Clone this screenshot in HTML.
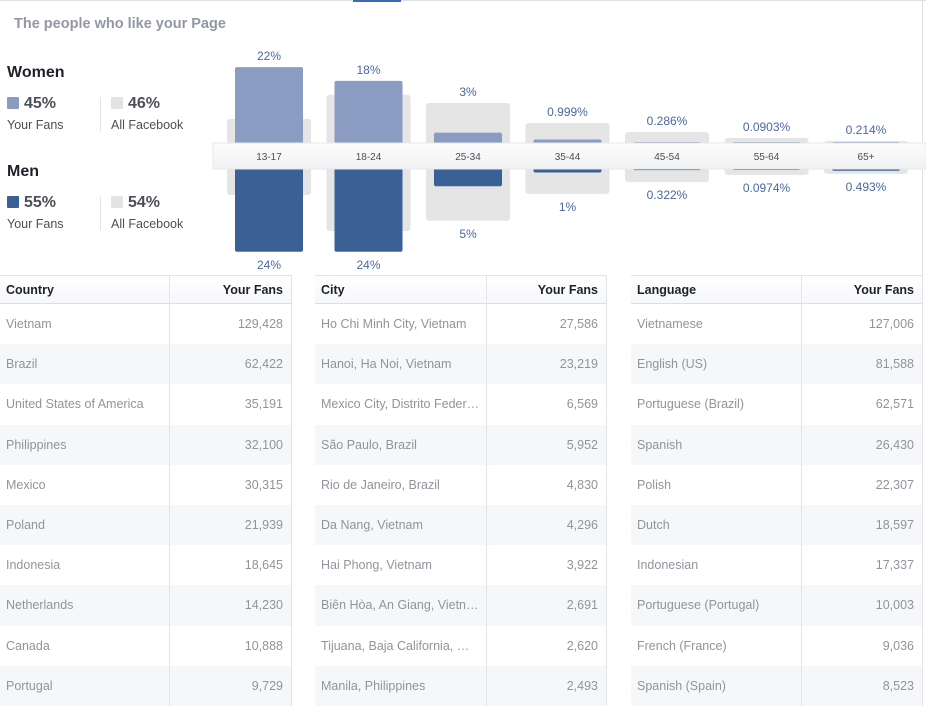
<!DOCTYPE html>
<html><head><meta charset="utf-8">
<style>
body{margin:0;width:926px;height:704px;background:#fff;font-family:"Liberation Sans",Arial,sans-serif;position:relative;overflow:hidden}
.abs{position:absolute}
.title{left:14px;top:16px;font-size:14.5px;font-weight:bold;color:#9197a3}
.lbl{font-size:16px;font-weight:bold;color:#1d2129}
.pct{font-size:16px;font-weight:bold;color:#4b4f56}
.sub{font-size:12.5px;color:#4b4f56}
.sw{width:12px;height:12px;display:inline-block;vertical-align:-1px;margin-right:5px;border-radius:1px}
table{position:absolute;top:275px;border-collapse:collapse;width:292px;font-size:12.5px;table-layout:fixed}
th{height:27px;font-weight:bold;color:#1d2129;text-align:left;padding:0 6px;border-right:1px solid #e3e4e8;border-bottom:1px solid #dddfe2;border-top:1px solid #e3e4e8;background:linear-gradient(#fff,#f6f7f9)}
td{height:40.2px;padding:0 6px;color:#90949c;border-right:1px solid #e3e4e8;white-space:nowrap;overflow:hidden;text-overflow:ellipsis}
th:last-child,td:last-child{text-align:right;padding-right:8px}
tr:nth-child(odd) td{background:#f6f7f9}
</style></head><body>
<div class="abs" style="left:0;top:0;width:926px;height:1px;background:#dddfe2"></div>
<div class="abs" style="left:353px;top:0;width:48px;height:2px;background:#4267b2"></div>
<div class="abs" style="left:922px;top:0;width:1px;height:704px;background:#dddfe2"></div>
<div class="abs title">The people who like your Page</div>

<div class="abs lbl" style="left:7px;top:64px">Women</div>
<div class="abs pct" style="left:7px;top:95px"><span class="sw" style="background:#8a9cc2"></span>45%</div>
<div class="abs sub" style="left:7px;top:118px">Your Fans</div>
<div class="abs" style="left:100px;top:97px;width:1px;height:34px;background:#e3e4e8"></div>
<div class="abs pct" style="left:111px;top:95px"><span class="sw" style="background:#e3e3e3"></span>46%</div>
<div class="abs sub" style="left:111px;top:118px">All Facebook</div>

<div class="abs lbl" style="left:7px;top:163px">Men</div>
<div class="abs pct" style="left:7px;top:194px"><span class="sw" style="background:#3b6096"></span>55%</div>
<div class="abs sub" style="left:7px;top:217px">Your Fans</div>
<div class="abs" style="left:100px;top:196px;width:1px;height:34px;background:#e3e4e8"></div>
<div class="abs pct" style="left:111px;top:194px"><span class="sw" style="background:#e3e3e3"></span>54%</div>
<div class="abs sub" style="left:111px;top:217px">All Facebook</div>

<svg id="chart" class="abs" style="left:0;top:0" width="926" height="275"></svg>

<table style="left:0">
<colgroup><col style="width:169px"><col></colgroup>
<tr><th>Country</th><th>Your Fans</th></tr>
<tr><td>Vietnam</td><td>129,428</td></tr>
<tr><td>Brazil</td><td>62,422</td></tr>
<tr><td>United States of America</td><td>35,191</td></tr>
<tr><td>Philippines</td><td>32,100</td></tr>
<tr><td>Mexico</td><td>30,315</td></tr>
<tr><td>Poland</td><td>21,939</td></tr>
<tr><td>Indonesia</td><td>18,645</td></tr>
<tr><td>Netherlands</td><td>14,230</td></tr>
<tr><td>Canada</td><td>10,888</td></tr>
<tr><td>Portugal</td><td>9,729</td></tr>
</table>
<table style="left:315px">
<colgroup><col style="width:171px"><col></colgroup>
<tr><th>City</th><th>Your Fans</th></tr>
<tr><td>Ho Chi Minh City, Vietnam</td><td>27,586</td></tr>
<tr><td>Hanoi, Ha Noi, Vietnam</td><td>23,219</td></tr>
<tr><td>Mexico City, Distrito Feder…</td><td>6,569</td></tr>
<tr><td>São Paulo, Brazil</td><td>5,952</td></tr>
<tr><td>Rio de Janeiro, Brazil</td><td>4,830</td></tr>
<tr><td>Da Nang, Vietnam</td><td>4,296</td></tr>
<tr><td>Hai Phong, Vietnam</td><td>3,922</td></tr>
<tr><td>Biên Hòa, An Giang, Vietn…</td><td>2,691</td></tr>
<tr><td>Tijuana, Baja California, M…</td><td>2,620</td></tr>
<tr><td>Manila, Philippines</td><td>2,493</td></tr>
</table>
<table style="left:631px">
<colgroup><col style="width:170px"><col></colgroup>
<tr><th>Language</th><th>Your Fans</th></tr>
<tr><td>Vietnamese</td><td>127,006</td></tr>
<tr><td>English (US)</td><td>81,588</td></tr>
<tr><td>Portuguese (Brazil)</td><td>62,571</td></tr>
<tr><td>Spanish</td><td>26,430</td></tr>
<tr><td>Polish</td><td>22,307</td></tr>
<tr><td>Dutch</td><td>18,597</td></tr>
<tr><td>Indonesian</td><td>17,337</td></tr>
<tr><td>Portuguese (Portugal)</td><td>10,003</td></tr>
<tr><td>French (France)</td><td>9,036</td></tr>
<tr><td>Spanish (Spain)</td><td>8,523</td></tr>
</table>

<script>
const ageGroups=["13-17","18-24","25-34","35-44","45-54","55-64","65+"];
const womenFans=[22,18,3,0.999,0.286,0.0903,0.214];
const menFans=[24,24,5,1,0.322,0.0974,0.493];
const womenAll=[7,14,11.6,5.8,3.2,1.5,0.6];
const menAll=[7.5,18,15,7.2,3.8,1.7,1.4];
const womenLabels=["22%","18%","3%","0.999%","0.286%","0.0903%","0.214%"];
const menLabels=["24%","24%","5%","1%","0.322%","0.0974%","0.493%"];

const svg=document.getElementById('chart');
const NS='http://www.w3.org/2000/svg';
const bandTop=143,bandBot=169,scale=3.45;
const xC=i=>269+i*99.5;
const hY=v=>Math.max(v*scale,1);
function mk(tag,attrs){const e=document.createElementNS(NS,tag);for(const k in attrs)e.setAttribute(k,attrs[k]);svg.appendChild(e);return e;}
ageGroups.forEach((g,i)=>{
  const cx=xC(i);
  const gw=84,fw=68;
  let e=mk('rect',{x:cx-gw/2,y:bandTop-hY(womenAll[i]),width:gw,height:hY(womenAll[i])+hY(menAll[i])+(bandBot-bandTop),rx:3,fill:'#e5e5e5'});
  
  
  e=mk('rect',{x:cx-fw/2,y:bandTop-hY(womenFans[i]),width:fw,height:hY(womenFans[i])+3,rx:2,fill:'#8a9cc2'});
  
  
  e=mk('rect',{x:cx-fw/2,y:bandBot-3,width:fw,height:hY(menFans[i])+3,rx:2,fill:'#3b6096'});
  
  
  const topY=bandTop-Math.max(hY(womenFans[i]),hY(womenAll[i]));
  e=mk('text',{x:cx,y:topY-7,'text-anchor':'middle','font-size':12,fill:'#4b67a1','font-family':'Liberation Sans, Arial, sans-serif'});
  e.textContent=womenLabels[i];
  
  
  const botY=bandBot+Math.max(hY(menFans[i]),hY(menAll[i]));
  e=mk('text',{x:cx,y:botY+17,'text-anchor':'middle','font-size':12,fill:'#4b67a1','font-family':'Liberation Sans, Arial, sans-serif'});
  e.textContent=menLabels[i];
  
  
});
const defs=document.createElementNS(NS,'defs');
defs.innerHTML='<linearGradient id="bg" x1="0" y1="0" x2="0" y2="1"><stop offset="0" stop-color="#fcfcfc"/><stop offset="1" stop-color="#f1f2f3"/></linearGradient>';
svg.appendChild(defs);
let band=mk('rect',{x:213,y:bandTop,width:713,height:bandBot-bandTop,fill:'url(#bg)',stroke:'#e6e7ea','stroke-width':1});


ageGroups.forEach((g,i)=>{
  const t=mk('text',{x:xC(i),y:160,'text-anchor':'middle','font-size':10,fill:'#4b4f56','font-family':'Liberation Sans, Arial, sans-serif'});
  t.textContent=g;
  
  
});
</script>
</body></html>
